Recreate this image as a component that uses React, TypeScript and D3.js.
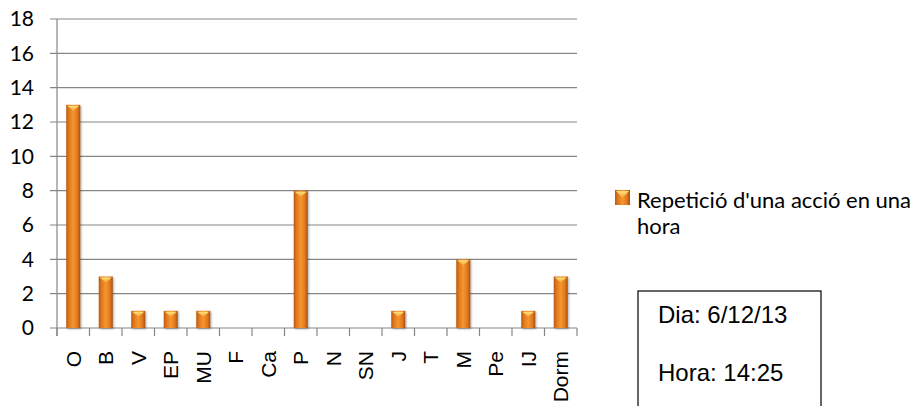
import React from "react";
import * as d3 from "d3";

const categories = ["O", "B", "V", "EP", "MU", "F", "Ca", "P", "N", "SN", "J", "T", "M", "Pe", "IJ", "Dorm"];
const values = [13, 3, 1, 1, 1, 0, 0, 8, 0, 0, 1, 0, 4, 0, 1, 3];
const yTicks = [0, 2, 4, 6, 8, 10, 12, 14, 16, 18];
const seriesName = "Repetició d'una acció en una hora";
const legendLines = ["Repetició d'una acció en una", "hora"];
const boxLines = ["Dia: 6/12/13", "Hora: 14:25"];

const W = 922;
const H = 406;
const plot = { left: 57, right: 577, top: 19, bottom: 328 };

export default function App() {
  const x = d3.scaleBand<string>().domain(categories).range([plot.left, plot.right]).paddingInner(0).paddingOuter(0);
  const y = d3.scaleLinear().domain([0, 18]).range([plot.bottom, plot.top]);
  const bw = 14;
  const grid = "#868686";

  return (
    <svg width={W} height={H} style={{ position: "absolute", left: 0, top: 0, background: "#fff" }}>
      <defs>
        <linearGradient id="barGrad" x1="0" x2="1" y1="0" y2="0">
          <stop offset="0" stopColor="#b85a10" />
          <stop offset="0.2" stopColor="#e07820" />
          <stop offset="0.5" stopColor="#f7962d" />
          <stop offset="0.8" stopColor="#e07820" />
          <stop offset="1" stopColor="#a4500e" />
        </linearGradient>
        <linearGradient id="capGrad" x1="0" x2="0" y1="0" y2="1">
          <stop offset="0" stopColor="#fde07a" />
          <stop offset="1" stopColor="#f5a530" />
        </linearGradient>
        <filter id="shadow" x="-30%" y="-10%" width="160%" height="130%">
          <feGaussianBlur in="SourceAlpha" stdDeviation="1.2" />
          <feOffset dx="1" dy="1" result="b" />
          <feComponentTransfer><feFuncA type="linear" slope="0.35" /></feComponentTransfer>
          <feMerge><feMergeNode /><feMergeNode in="SourceGraphic" /></feMerge>
        </filter>
      </defs>

      {yTicks.map((t) => (
        <line key={"g" + t} x1={plot.left - 7} x2={plot.right} y1={y(t)} y2={y(t)} stroke={grid} strokeWidth={1.2} />
      ))}
      <line x1={plot.left} x2={plot.left} y1={plot.top} y2={plot.bottom + 8} stroke={grid} strokeWidth={1.2} />
      {categories.map((c, i) => (
        <line key={"xt" + c} x1={plot.left + i * x.bandwidth()} x2={plot.left + i * x.bandwidth()} y1={plot.bottom} y2={plot.bottom + 8} stroke={grid} strokeWidth={1.2} />
      ))}
      <line x1={plot.right} x2={plot.right} y1={plot.bottom} y2={plot.bottom + 8} stroke={grid} strokeWidth={1.2} />

      {yTicks.map((t) => (
        <text key={"yl" + t} x={34} y={y(t)} dy="0.35em" textAnchor="end" fontFamily="Lato, 'Noto Sans', sans-serif" fontSize={21} fill="#000">
          {t}
        </text>
      ))}

      {values.map((v, i) => {
        if (v <= 0) return null;
        const cx = (x(categories[i]) as number) + x.bandwidth() / 2;
        const x0 = cx - bw / 2;
        const yt = y(v);
        const h = plot.bottom - yt;
        return (
          <g key={"b" + i} filter="url(#shadow)">
            <rect x={x0} y={yt} width={bw} height={h} fill="url(#barGrad)" />
            <polygon points={`${x0 + 1},${yt + 1} ${x0 + bw - 1},${yt + 1} ${cx},${yt + 6}`} fill="url(#capGrad)" />
          </g>
        );
      })}

      {categories.map((c) => {
        const cx = (x(c) as number) + x.bandwidth() / 2;
        return (
          <text key={"xl" + c} transform={`translate(${cx},351) rotate(-90)`} dy="0.35em" textAnchor="end" fontFamily="'Liberation Sans', Arial, sans-serif" fontSize={21} fill="#000">
            {c}
          </text>
        );
      })}

      <g>
        <rect x={615} y={190} width={15} height={15} fill="url(#barGrad)" />
        <polygon points="616,191 629,191 622.5,198" fill="url(#capGrad)" />
        {legendLines.map((l, i) => (
          <text key={"lg" + i} x={637} y={208 + i * 26} fontFamily="Lato, 'Noto Sans', sans-serif" fontSize={22} fill="#000">
            {l}
          </text>
        ))}
        <title>{seriesName}</title>
      </g>

      <rect x={638} y={291} width={183} height={130} fill="#fff" stroke="#000" strokeWidth={1.2} />
      {boxLines.map((l, i) => (
        <text key={"bx" + i} x={658} y={323 + i * 58} fontFamily="'Liberation Sans', Arial, sans-serif" fontSize={24} fill="#000">
          {l}
        </text>
      ))}
    </svg>
  );
}
